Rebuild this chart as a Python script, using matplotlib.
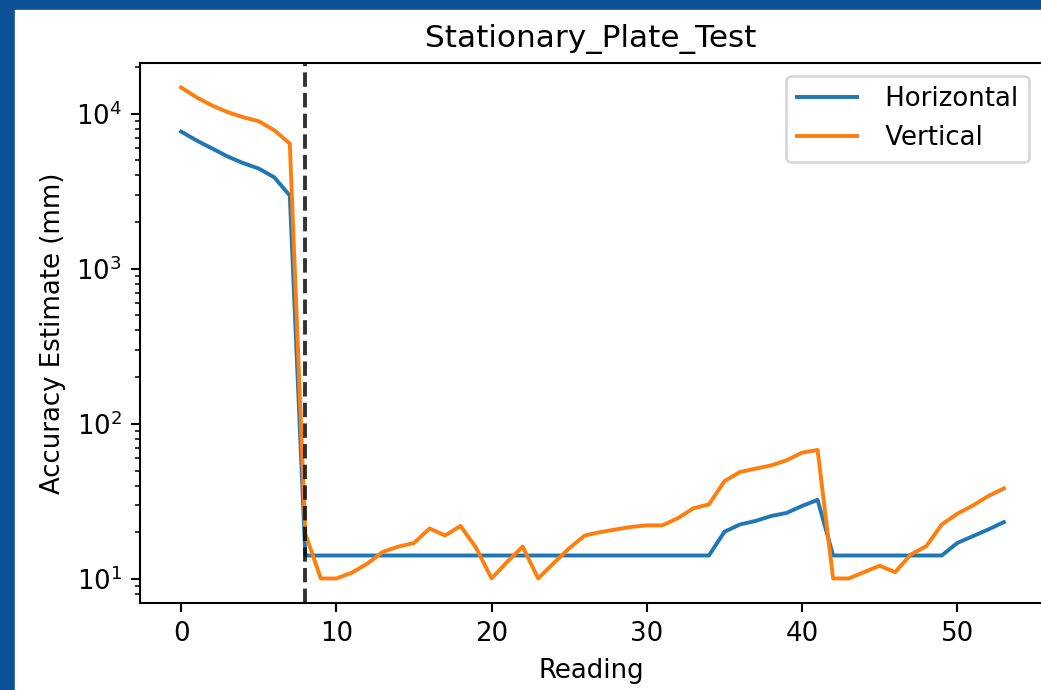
import matplotlib
matplotlib.use("Agg")
import matplotlib.pyplot as plt
from matplotlib.patches import Rectangle

readings = list(range(54))
horizontal = [7650, 6700, 5950, 5280, 4790, 4420, 3880, 2960, 14.2, 14.2,
              14.2, 14.2, 14.2, 14.2, 14.2, 14.2, 14.2, 14.2, 14.2, 14.2,
              14.2, 14.2, 14.2, 14.2, 14.2, 14.2, 14.2, 14.2, 14.2, 14.2,
              14.2, 14.2, 14.2, 14.2, 14.2, 20.2, 22.5, 23.7, 25.5, 26.7,
              29.6, 32.4, 14.2, 14.2, 14.2, 14.2, 14.2, 14.2, 14.2, 14.2,
              17.1, 18.9, 20.9, 23.3]
vertical = [14700, 12700, 11260, 10200, 9460, 8920, 7800, 6400, 19.6, 10.1,
            10.1, 11.0, 12.6, 15.0, 16.2, 17.1, 21.2, 19.1, 22.0, 15.9,
            10.1, 12.9, 16.2, 10.1, 12.7, 15.8, 19.1, 20.1, 20.9, 21.7,
            22.2, 22.2, 24.7, 28.6, 30.3, 42.8, 49.0, 51.5, 54.0, 58.3,
            65.3, 68.0, 10.1, 10.1, 11.1, 12.2, 11.1, 14.4, 16.3, 22.5,
            26.4, 29.8, 34.3, 38.4]
cutoff = 8
labels = [" Horizontal", " Vertical"]

W, H, DPI = 1041, 690, 187
fig = plt.figure(figsize=(W / DPI, H / DPI), dpi=DPI, facecolor="white")
ax = fig.add_axes([140 / W, 87 / H, 905 / W, 540 / H])

ax.plot(readings, horizontal, label=labels[0])
ax.plot(readings, vertical, label=labels[1])
ax.axvline(cutoff, color="k", linestyle="--", alpha=0.8)
ax.set_yscale("log")
ax.set_title("Stationary_Plate_Test", x=451 / 905)
ax.set_xlabel("Reading", x=451 / 905)
ax.set_ylabel("Accuracy Estimate (mm)")
ax.legend(loc="upper right", bbox_to_anchor=(902 / 905, 1), handlelength=2.3)

frame = "#0c5195"
fig.add_artist(Rectangle((0, 1 - 7.5 / H), 1, 7.5 / H, transform=fig.transFigure,
                         color=frame, zorder=10))
fig.add_artist(Rectangle((0, 0), 12.5 / W, 1, transform=fig.transFigure,
                         color=frame, zorder=10))

fig.savefig("out.png", dpi=DPI)
